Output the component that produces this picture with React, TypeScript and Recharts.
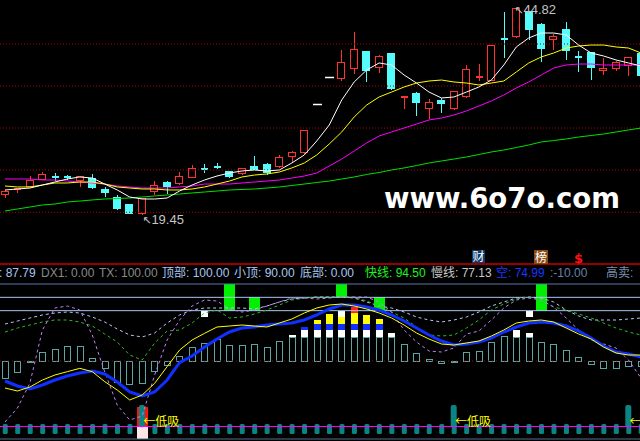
import { Bar, ComposedChart, Line, ReferenceDot, ReferenceLine, XAxis, YAxis } from "recharts"

// price panel (one candle per trading day)
const OPEN = [
  21.91, 22.62, 22.9, 23.76, 24.16, 24.15, 23.64, 23.88, 22.53, 21.54,
  20.68, 19.57, 22.28, 23.39, 23.27, 24.01, 25.15, 25.4, 24.75, 24.5,
  25.36, 25.61, 25.36, 26.59, 27.09, 33.0, 36.32, 36.2, 37.43, 39.52,
  37.55, 39.28, 33.95, 34.35, 32.51, 33.49, 32.51, 33.98, 36.4, 35.95,
  41.15, 41.37, 44.45, 42.85, 41.0, 42.23, 38.95, 39.4, 37.18, 37.43,
  37.8, 39.28,
]
const HIGH = [
  22.53, 22.78, 24.25, 24.75, 24.62, 24.38, 24.2, 24.5, 22.9, 21.91,
  20.81, 21.45, 23.64, 23.64, 24.75, 25.61, 25.73, 25.85, 24.87, 25.24,
  26.72, 25.85, 26.84, 27.33, 29.85, 33.0, 36.32, 39.77, 41.99, 39.6,
  39.15, 39.4, 34.05, 34.6, 33.74, 33.86, 34.72, 37.92, 38.05, 40.3,
  44.45, 44.82, 44.5, 43.1, 41.74, 43.22, 39.65, 39.45, 38.79, 38.42,
  38.91, 39.4,
]
const LOW = [
  21.54, 22.16, 22.85, 23.7, 23.64, 23.76, 22.9, 22.65, 21.67, 20.1,
  19.55, 19.45, 21.91, 22.04, 23.2, 23.95, 24.62, 25.12, 24.01, 24.38,
  24.95, 24.38, 25.3, 25.85, 27.0, 33.0, 36.32, 35.95, 36.82, 35.83,
  36.94, 34.9, 32.51, 31.64, 31.27, 32.01, 32.4, 33.86, 35.95, 35.9,
  38.79, 41.3, 41.0, 38.29, 39.77, 38.54, 37.06, 36.08, 36.69, 37.18,
  36.57, 36.5,
]
const CLOSE = [
  22.28, 22.68, 23.64, 24.38, 24.1, 24.12, 24.13, 22.78, 22.16, 20.19,
  19.57, 21.42, 23.02, 22.9, 24.13, 25.12, 25.08, 25.33, 24.13, 25.12,
  24.99, 24.62, 26.47, 27.09, 29.8, 33.0, 36.32, 38.17, 39.77, 37.18,
  38.91, 34.97, 34.0, 33.24, 33.24, 33.12, 34.6, 37.31, 36.5, 40.26,
  41.1, 44.8, 42.23, 39.89, 41.37, 39.65, 38.91, 37.55, 37.43, 38.17,
  38.79, 36.57,
]
const MA5 = [
  22.41, 22.53, 22.65, 23.02, 23.39, 23.76, 24.01, 23.88, 23.14, 22.41,
  21.54, 21.3, 21.3, 21.42, 22.28, 23.02, 23.64, 24.13, 24.5, 24.75,
  24.87, 24.75, 24.87, 25.73, 26.72, 28.44, 30.41, 33.49, 35.71, 37.18,
  38.05, 37.8, 36.57, 35.58, 34.47, 33.74, 33.86, 34.47, 35.09, 35.95,
  37.8, 40.02, 41.13, 41.74, 41.74, 41.5, 40.26, 39.28, 38.91, 38.42,
  38.05, 37.68,
]
const MA10 = [
  22.9, 22.78, 22.78, 23.02, 23.27, 23.27, 23.39, 23.39, 23.14, 22.78,
  22.65, 22.53, 22.53, 22.41, 22.41, 22.53, 22.78, 23.14, 23.51, 24.01,
  24.25, 24.38, 24.62, 25.12, 25.73, 26.72, 28.07, 29.55, 31.4, 32.87,
  33.86, 34.47, 35.09, 35.58, 35.83, 35.95, 35.71, 35.58, 35.34, 35.58,
  35.83, 36.94, 38.05, 38.79, 39.28, 39.89, 40.14, 40.26, 40.26, 40.02,
  39.89, 39.28,
]
const MA20 = [
  23.76, 23.76, 23.76, 23.64, 23.64, 23.51, 23.39, 23.27, 23.14, 22.9,
  22.78, 22.65, 22.65, 22.65, 22.78, 22.9, 23.14, 23.14, 23.14, 23.27,
  23.39, 23.51, 23.64, 23.88, 24.13, 24.5, 25.36, 26.22, 27.21, 28.2,
  29.06, 29.55, 30.04, 30.53, 31.03, 31.27, 31.64, 32.14, 32.75, 33.37,
  34.11, 34.97, 35.71, 36.57, 37.43, 37.8, 37.92, 37.92, 37.8, 37.8,
  37.8, 37.8,
]
const MA60 = [
  19.82, 20.07, 20.31, 20.56, 20.68, 20.93, 21.05, 21.18, 21.3, 21.36,
  21.42, 21.54, 21.67, 21.79, 21.91, 22.04, 22.16, 22.28, 22.41, 22.47,
  22.53, 22.65, 22.78, 22.96, 23.14, 23.33, 23.51, 23.76, 24.01, 24.32,
  24.56, 24.87, 25.12, 25.42, 25.73, 25.98, 26.22, 26.47, 26.78, 27.09,
  27.33, 27.64, 27.95, 28.32, 28.5, 28.69, 28.93, 29.12, 29.3, 29.55,
  29.8, 30.04,
]
const PRICE_GRID = [19.66, 24.87, 30.04, 35.21, 40.39]
const PRICE_MAX = { i: 41, value: 44.82 }
const PRICE_MIN = { i: 11, value: 19.45 }

// indicator panel
const OSC_BASE = 42.25
const OSC = [
  29.5, 34, 41.5, 49, 51.25, 53.5, 53.5, 44.5, 37, 26.5,
  25, 25.75, 34.75, 39.25, 46, 52.75, 55.75, 58.75, 54.25, 54.25,
  55, 52.75, 57.25, 60.25, 60.25, 60.25, 60.25, 60.25, 60.25, 60.25,
  60.25, 60.25, 55, 48.25, 43.75, 40.75, 41.75, 49, 49.75, 56.5,
  61, 60.25, 60.25, 56.5, 55, 50.5, 45.25, 40, 37, 37,
  38.5, 38.5,
]
const FAST = [
  27.25, 23.5, 21.25, 24.25, 28, 31, 33.25, 34.75, 32.5, 26.5,
  19, 16, 19, 28, 41, 46, 52.75, 58.75, 64, 67,
  67.75, 69.25, 70, 70.75, 73, 76.75, 81.25, 84.25, 84.25, 82.75,
  80.5, 76.75, 72.25, 67, 61.75, 57.25, 54.25, 55, 56.5, 59.5,
  64, 67.75, 70.75, 71.5, 70.75, 68.5, 64.75, 59.5, 53.5, 49,
  47.5, 45.25,
]
const SLOW = [
  22, 19.75, 22.75, 28, 31.75, 34.25, 36.75, 34.25, 26.75, 20.5,
  13, 16.75, 25.5, 38, 50.5, 58, 63, 67.75, 68.5, 69.25,
  68.5, 67.75, 70.75, 73.75, 78.25, 82, 84.25, 85, 83.5, 81.25,
  78.25, 74.5, 69.25, 63.25, 58.75, 55, 54.25, 55.75, 57.25, 61,
  65.5, 70.75, 72.25, 73, 71.5, 67, 62.5, 58.75, 52.75, 48.25,
  46.75, 46.75,
]
const DASH_A = [
  70, 72.25, 74.5, 76.75, 78.25, 79, 78.25, 75.25, 71.5, 66.25,
  61.75, 60.25, 63.25, 70.75, 76.75, 80.5, 82, 82, 82, 82,
  81.25, 83.5, 86.5, 88.75, 89.5, 90.25, 90.25, 90.25, 89.5, 86.5,
  83.5, 82, 79, 75.25, 73, 71.5, 73, 75.25, 79, 83.5,
  86.5, 89.5, 90.25, 89.5, 86.5, 80.5, 76, 73, 73, 73,
  73.75, 74.5,
]
const DASH_B = [
  64, 67, 69.25, 71.5, 73, 73, 71.5, 68.5, 62.5, 56.5,
  46.75, 43, 55.75, 64.75, 65.5, 70.75, 78.25, 80.5, 74.5, 75.25,
  77.5, 80.5, 84.25, 88, 89.5, 90.25, 90.25, 90.25, 90.25, 87.25,
  83.5, 79, 74.5, 67.75, 61.75, 61, 61.75, 67, 73, 80.5,
  85, 88.75, 90.25, 88, 82.75, 80.5, 77.5, 74.5, 70.75, 67,
  64, 61.75,
]
const DASH_C = [
  -3.5, 7, 25.75, 65.5, 82, 83.5, 80.5, 61.75, 34, 9.25,
  -2, 1, 31.75, 58, 73, 83.5, 88, 87.25, 81.25, 79,
  80.5, 83.5, 86.5, 89.5, 89.5, 88.75, 89.5, 90.25, 90.25, 90.25,
  86.5, 79, 65.5, 56.5, 49.75, 49, 52, 62.5, 64.75, 73,
  82, 88, 89.5, 88, 82.75, 74.5, 65.5, 58, 55, 52,
  43, 29.5,
]
// [day, from, to]
const CAP_WHITE = [
  [23, 60.25, 61.75], [24, 60.25, 65.5], [25, 60.25, 65.5], [26, 60.25, 65.5], [27, 60.25, 65.5],
  [28, 60.25, 65.5], [29, 60.25, 65.5], [30, 60.25, 65.5], [31, 60.25, 63.25], [41, 60.25, 65.5],
  [42, 60.25, 63.25],
]
const CAP_BLUE = [
  [24, 65.5, 67.75], [25, 65.5, 70], [26, 65.5, 70], [27, 65.5, 70], [28, 65.5, 70], [29, 65.5, 70], [30, 65.5, 70],
]
const CAP_YELLOW = [
  [25, 70, 73], [26, 70, 77.5], [27, 70, 75.25], [28, 70, 78.25], [29, 70, 76.75], [30, 70, 73.75],
]
const CAP_TOP = [[27, 75.25, 79.75]]
const CAP_RED = [[28, 78.25, 82.75]]
const WHITE_MARKS = [[16, 75.25, 79.75], [42, 75.25, 79.75]]
const GREEN_BLOCKS = [[18, 80, 100], [20, 80, 90], [27, 90, 100], [30, 80, 90], [43, 80, 100]]
const BUY_DAYS = [11, 36, 50]
const BOTTOM_DAYS = [11]
const STRIP: [number, number] = [-12.5, -5]
const STRIP_LINE = -6.875
const BUY_BAR: [number, number] = [-7.5, 9.25]
const BOTTOM_BAR: [number, number] = [-6.875, 7.75]
const BOTTOM_BASE: [number, number] = [-16.6, -6.875]

const HEADER_LABELS = ["", "DX1", "TX", "顶部", "小顶", "底部", "快线", "慢线", "空", "", "高卖"]
const HEADER_VALUES = [87.79, 0, 100, 100, 90, 0, 94.5, 77.13, 74.99, -10, null]
const HEADER_X = [-1, 41, 99, 162, 234, 300, 365, 431, 496, 550, 606]
const HEADER_COLORS = ["#a8c8f0", "#8a8a8a", "#8a8a8a", "#a8c8f0", "#a8c8f0", "#a8c8f0", "#20f020", "#c8c8c8", "#1838ff", "#6880a8", "#7890b0"]

const X_DOMAIN: [number, number] = [-0.401, 50.92]
const PRICE_DOMAIN: [number, number] = [13.54, 45.805]
const IND_DOMAIN: [number, number] = [-17.75, 116.5]
const MARGIN = { top: 0, right: 0, bottom: 0, left: 0 }
const RED = "#ff3232"
const CYAN = "#54fcfc"
const FONT = "Liberation Sans, Noto Sans CJK SC, sans-serif"

const priceRows = OPEN.map((open, i) => ({
  i,
  open,
  high: HIGH[i],
  low: LOW[i],
  close: CLOSE[i],
  ma5: MA5[i],
  ma10: MA10[i],
  ma20: MA20[i],
  ma60: MA60[i],
}))

const indRows: any[] = OSC.map((v, i) => ({
  i,
  osc: [OSC_BASE, v],
  fast: FAST[i],
  slow: SLOW[i],
  da: DASH_A[i],
  db: DASH_B[i],
  dc: DASH_C[i],
  strip: STRIP,
  buy: BUY_DAYS.includes(i) ? BUY_BAR : undefined,
  bottom: BOTTOM_DAYS.includes(i) ? BOTTOM_BAR : undefined,
  bottomBase: BOTTOM_DAYS.includes(i) ? BOTTOM_BASE : undefined,
}))
const putMarks = (key: string, marks: number[][]) =>
  marks.forEach(([i, lo, hi]) => {
    indRows[i][key] = [lo, hi]
  })
putMarks("capWhite", CAP_WHITE)
putMarks("capBlue", CAP_BLUE)
putMarks("capYellow", CAP_YELLOW)
putMarks("capTop", CAP_TOP)
putMarks("capRed", CAP_RED)
putMarks("mark", WHITE_MARKS)
putMarks("green", GREEN_BLOCKS)

function Candle(props: any) {
  const { x, y, width, height, payload } = props
  if (!payload || !Number.isFinite(x) || !Number.isFinite(y)) return <g />
  const { open, close, high, low } = payload
  const top = Math.min(y, y + (height || 0))
  const bottom = Math.max(y, y + (height || 0))
  const span = high - low
  const py = (v: number) => (span > 0 ? top + ((high - v) / span) * (bottom - top) : top)
  const left = Math.round(x) + 0.5
  const w = Math.round(width) - 1
  const cx = Math.round(x + width / 2) + 0.5
  if (span <= 0) {
    const yy = Math.round(top) + 0.5
    return <line x1={left - 0.5} x2={left + w + 1.5} y1={yy} y2={yy} stroke="#ffffff" strokeWidth={1.5} />
  }
  const up = close > open
  const color = up ? RED : CYAN
  const bt = Math.round(py(Math.max(open, close))) + 0.5
  const bb = Math.round(py(Math.min(open, close))) + 0.5
  const yTop = Math.round(top) + 0.5
  const yBot = Math.round(bottom) + 0.5
  if (bb - bt < 1.5) {
    return (
      <g shapeRendering="crispEdges">
        <line x1={cx} x2={cx} y1={yTop} y2={yBot} stroke={color} />
        <line x1={left} x2={left + w} y1={bt} y2={bt} stroke={color} strokeWidth={2} />
      </g>
    )
  }
  if (up) {
    return (
      <g shapeRendering="crispEdges">
        <line x1={cx} x2={cx} y1={yTop} y2={bt} stroke={color} />
        <line x1={cx} x2={cx} y1={bb} y2={yBot} stroke={color} />
        <rect x={left} y={bt} width={w} height={bb - bt} fill="#000" stroke={color} />
      </g>
    )
  }
  return (
    <g shapeRendering="crispEdges">
      <line x1={cx} x2={cx} y1={yTop} y2={yBot} stroke={color} />
      <rect x={left - 0.5} y={bt - 0.5} width={w + 1} height={bb - bt + 1} fill={color} />
    </g>
  )
}

const block = (key: string, color: string, rx = 0) => (props: any) => {
  const { x, y, width, height, payload } = props
  if (!payload || !payload[key] || !Number.isFinite(y) || !Number.isFinite(height)) return <g />
  const top = Math.min(y, y + height)
  return <rect x={x} y={top} width={width} height={Math.max(1, Math.abs(height))} rx={rx} fill={color} shapeRendering={rx ? undefined : "crispEdges"} />
}

function HollowBar(props: any) {
  const { x, y, width, height } = props
  if (!Number.isFinite(y) || !Number.isFinite(height)) return <g />
  const top = Math.round(Math.min(y, y + height)) + 0.5
  const h = Math.max(1, Math.round(Math.abs(height)))
  return <rect x={Math.round(x) + 0.5} y={top} width={Math.round(width) - 1} height={h} fill="none" stroke="#5fa4a4" shapeRendering="crispEdges" />
}

const extremeLabel = (text: string, dx: number, dy: number) => (props: any) => {
  const vb = props.viewBox
  if (!vb) return <g />
  return (
    <text x={vb.x + 1 + dx} y={vb.y + 1 + dy} fill="#c4c4c4" fontSize={13} fontFamily={FONT}>
      <tspan fontFamily="DejaVu Sans" fontSize={11}>↖</tspan>
      {text}
    </text>
  )
}

const buyLabel = (props: any) => {
  const vb = props.viewBox
  if (!vb) return <g />
  return (
    <text x={vb.x + 2} y={vb.y} fill="#ffff00" fontSize={12} fontFamily="Noto Sans CJK SC">
      ←低吸
    </text>
  )
}

const BAR_AXES = ["osc", "cw", "cb", "cy", "ct", "cr", "mk", "gb", "strip", "buy", "bt", "bb", "ln"]

export default function App() {
  return (
    <div style={{ position: "absolute", left: 0, top: 0, width: 640, height: 441, background: "#000", overflow: "hidden" }}>
      <div style={{ position: "absolute", left: 0, top: 0 }}>
        <ComposedChart width={640} height={262} data={priceRows} margin={MARGIN}>
          <XAxis type="number" dataKey="i" domain={X_DOMAIN} hide allowDataOverflow />
          <YAxis type="number" domain={PRICE_DOMAIN} hide allowDataOverflow />
          {PRICE_GRID.map((v) => (
            <ReferenceLine key={v} y={v} stroke="#b00000" strokeDasharray="1 2" />
          ))}
          <Bar dataKey={(d: any) => [d.low, d.high]} barSize={8} shape={Candle} isAnimationActive={false} />
          <Line type="linear" dataKey="ma60" stroke="#00e000" strokeWidth={1} dot={false} activeDot={false} isAnimationActive={false} />
          <Line type="linear" dataKey="ma20" stroke="#ff00ff" strokeWidth={1} dot={false} activeDot={false} isAnimationActive={false} />
          <Line type="linear" dataKey="ma10" stroke="#ffff00" strokeWidth={1} dot={false} activeDot={false} isAnimationActive={false} />
          <Line type="linear" dataKey="ma5" stroke="#ffffff" strokeWidth={1} dot={false} activeDot={false} isAnimationActive={false} />
          <ReferenceDot x={PRICE_MAX.i} y={PRICE_MAX.value} r={1} fill="none" stroke="none" label={extremeLabel(PRICE_MAX.value.toFixed(2), -2, 6)} />
          <ReferenceDot x={PRICE_MIN.i} y={PRICE_MIN.value} r={1} fill="none" stroke="none" label={extremeLabel(PRICE_MIN.value.toFixed(2), 0, 10)} />
        </ComposedChart>
      </div>
      <div style={{ position: "absolute", left: 0, top: 262 }}>
        <ComposedChart width={640} height={179} data={indRows} margin={MARGIN}>
          {BAR_AXES.map((id) => (
            <XAxis key={id} xAxisId={id} type="number" dataKey="i" domain={X_DOMAIN} hide allowDataOverflow />
          ))}
          <YAxis type="number" domain={IND_DOMAIN} hide allowDataOverflow />
          <ReferenceLine xAxisId="ln" y={115} stroke="#c80000" strokeWidth={1.5} />
          <ReferenceLine xAxisId="ln" y={100} stroke="#5878a8" />
          <ReferenceLine xAxisId="ln" y={90} stroke="#a8c8f0" />
          <ReferenceLine xAxisId="ln" y={80} stroke="#a8c8f0" />
          <ReferenceLine xAxisId="ln" y={OSC_BASE} stroke="#900000" strokeDasharray="1 3" />
          <ReferenceLine xAxisId="ln" y={-16.25} stroke="#5a6a90" />
          <Bar xAxisId="osc" dataKey="osc" barSize={7} shape={HollowBar} isAnimationActive={false} />
          <Bar xAxisId="cw" dataKey="capWhite" barSize={7} shape={block("capWhite", "#ffffff")} isAnimationActive={false} />
          <Bar xAxisId="cb" dataKey="capBlue" barSize={7} shape={block("capBlue", "#1030ff")} isAnimationActive={false} />
          <Bar xAxisId="cy" dataKey="capYellow" barSize={7} shape={block("capYellow", "#ffff00")} isAnimationActive={false} />
          <Bar xAxisId="ct" dataKey="capTop" barSize={7} shape={block("capTop", "#ffffff")} isAnimationActive={false} />
          <Bar xAxisId="cr" dataKey="capRed" barSize={7} shape={block("capRed", "#ff2020")} isAnimationActive={false} />
          <Bar xAxisId="mk" dataKey="mark" barSize={7} shape={block("mark", "#ffffff")} isAnimationActive={false} />
          <Line xAxisId="ln" type="linear" dataKey="da" stroke="#b8c8f0" strokeDasharray="3 3" dot={false} activeDot={false} isAnimationActive={false} />
          <Line xAxisId="ln" type="linear" dataKey="db" stroke="#30b830" strokeDasharray="3 3" dot={false} activeDot={false} isAnimationActive={false} />
          <Line xAxisId="ln" type="linear" dataKey="dc" stroke="#c080ff" strokeDasharray="3 3" dot={false} activeDot={false} isAnimationActive={false} />
          <Line xAxisId="ln" type="linear" dataKey="fast" stroke="#1030ff" strokeWidth={3} dot={false} activeDot={false} isAnimationActive={false} />
          <Line xAxisId="ln" type="linear" dataKey="slow" stroke="#ffff00" strokeWidth={1} dot={false} activeDot={false} isAnimationActive={false} />
          <Bar xAxisId="gb" dataKey="green" barSize={11} shape={block("green", "#00f000")} isAnimationActive={false} />
          <Bar xAxisId="strip" dataKey="strip" barSize={5} shape={block("strip", "#0a8484", 1.5)} isAnimationActive={false} />
          <Bar xAxisId="bt" dataKey="bottom" barSize={11} shape={block("bottom", "#ff1010")} isAnimationActive={false} />
          <Bar xAxisId="bb" dataKey="bottomBase" barSize={11} shape={block("bottomBase", "#fde6e6")} isAnimationActive={false} />
          <Bar xAxisId="buy" dataKey="buy" barSize={6} shape={block("buy", "#0a8484", 2)} isAnimationActive={false} />
          <ReferenceLine xAxisId="ln" y={STRIP_LINE} stroke="#ff00ff" />
          {BUY_DAYS.map((d) => (
            <ReferenceDot key={d} xAxisId="ln" x={d} y={STRIP_LINE} r={1} fill="none" stroke="none" label={buyLabel} />
          ))}
        </ComposedChart>
      </div>
      <svg width={640} height={441} style={{ position: "absolute", left: 0, top: 0, pointerEvents: "none" }}>
        <text x={384} y={208} fontSize={28} fontWeight="bold" fontFamily="DejaVu Sans" fill="#ffffff" textLength={236} lengthAdjust="spacingAndGlyphs">
          www.6o7o.com
        </text>
        <rect x={472} y={250} width={13} height={13} fill="#0c3a6c" />
        <text x={472.5} y={261} fontSize={12} fill="#ffffff" fontFamily="Noto Sans CJK SC">财</text>
        <rect x={534} y={250} width={14} height={14} fill="#8a4a12" />
        <text x={535} y={261.5} fontSize={12} fill="#ffffff" fontFamily="Noto Sans CJK SC">榜</text>
        <text x={574} y={263} fontSize={13} fontWeight="bold" fill="#ff1010" fontFamily="DejaVu Sans">$</text>
        {HEADER_LABELS.map((label, k) => {
          const v = HEADER_VALUES[k]
          const value = v == null ? "" : (v < 0 ? "" : " ") + v.toFixed(2)
          return (
            <text key={k} x={HEADER_X[k]} y={277} fontSize={12} fill={HEADER_COLORS[k]} fontFamily={FONT}>
              {label + ":" + value}
            </text>
          )
        })}
      </svg>
    </div>
  )
}
